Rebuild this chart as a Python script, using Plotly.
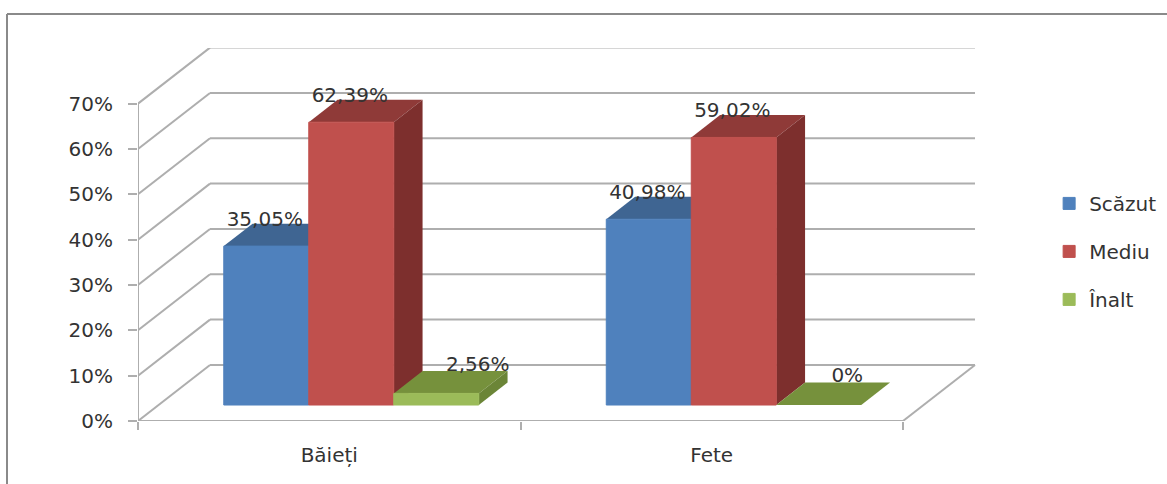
import plotly.graph_objects as go

categories = ["Băieți", "Fete"]
scazut = [35.05, 40.98]
mediu = [62.39, 59.02]
inalt = [2.56, 0]
scazut_labels = ["35,05%", "40,98%"]
mediu_labels = ["62,39%", "59,02%"]
inalt_labels = ["2,56%", "0%"]
y_ticks = [0, 10, 20, 30, 40, 50, 60, 70]
y_tick_labels = ["0%", "10%", "20%", "30%", "40%", "50%", "60%", "70%"]

W, H = 1167, 484
L, R, T, B = 138, 977, 48, 420.7
PX_X = 382.5
PX_Y = 4.53
DX = 72 / PX_X
DY = 56 / PX_Y
D0, D1 = 0.285, 0.685
BAR_W = 85 / PX_X
NUDGE = 1.5 / PX_X

series = [
    dict(name="Scăzut", vals=scazut, labels=scazut_labels, front="#4f81bd", top="#3f6592", side="#375a85"),
    dict(name="Mediu", vals=mediu, labels=mediu_labels, front="#c0504d", top="#8f3a38", side="#7d2f2d"),
    dict(name="Înalt", vals=inalt, labels=inalt_labels, front="#9bbb59", top="#76913c", side="#6b8537"),
]
GRID = "#aeaeae"
TXT = "#333333"
FONT = "DejaVu Sans"

fig = go.Figure()
shapes = []


def line(x0, y0, x1, y1):
    shapes.append(dict(type="line", xref="x", yref="y", x0=x0, y0=y0, x1=x1, y1=y1,
                       layer="below", line=dict(color=GRID, width=2)))


nx = len(categories)
for v in y_ticks:
    line(0, v, DX, v + DY)
    line(DX, v + DY, nx + DX, v + DY)
line(0, 0, 0, max(y_ticks))
line(0, 0, nx, 0)
line(nx, 0, nx + DX, DY)

for s_i, s in enumerate(series):
    z = 1 + s_i * 2
    for c_i, v in enumerate(s["vals"]):
        x0 = c_i + 0.5 + (s_i - 1.5) * BAR_W + D0 * DX + NUDGE
        x1 = x0 + BAR_W
        y0 = D0 * DY
        top = v + y0
        a, b = (D1 - D0) * DX, (D1 - D0) * DY
        # top face
        fig.add_trace(go.Scatter(x=[x0, x1, x1 + a, x0 + a, x0], y=[top, top, top + b, top + b, top],
                                 mode="lines", fill="toself", fillcolor=s["top"], line=dict(width=0),
                                 showlegend=False, hoverinfo="skip", zorder=z))
        # right side face
        if v > 0:
            fig.add_trace(go.Scatter(x=[x1, x1 + a, x1 + a, x1, x1], y=[y0, y0 + b, top + b, top, y0],
                                     mode="lines", fill="toself", fillcolor=s["side"], line=dict(width=0),
                                     showlegend=False, hoverinfo="skip", zorder=z))
    fig.add_trace(go.Bar(
        name=s["name"], legendgroup=s["name"],
        x=[i + 0.5 + (s_i - 1) * BAR_W + D0 * DX + NUDGE for i in range(nx)],
        y=s["vals"], base=[D0 * DY] * nx, width=BAR_W,
        marker=dict(color=s["front"], line=dict(width=[1 if v > 0 else 0 for v in s["vals"]], color=s["front"])),
        zorder=z + 1,
    ))

# data labels: sit just behind each bar's top, the small green ones slide to the right
label_x, label_y, label_t = [], [], []
for s_i, s in enumerate(series):
    for c_i, v in enumerate(s["vals"]):
        shift = 0
        if s_i == 2:
            shift = (43 if v > 0 else 30) / PX_X
        label_x.append(c_i + 0.5 + (s_i - 1) * BAR_W + D0 * DX + shift)
        label_y.append(v + D1 * DY + (5.5 if s_i == 2 else 3) / PX_Y)
        label_t.append(s["labels"][c_i])
fig.add_trace(go.Scatter(x=label_x, y=label_y, text=label_t, mode="text", textposition="middle center",
                         textfont=dict(family=FONT, size=20, color=TXT), showlegend=False,
                         hoverinfo="skip", cliponaxis=False, zorder=20))

frame = dict(color="#8a8a8a", width=2)
shapes.append(dict(type="line", xref="paper", yref="paper",
                   x0=(7 - L) / (R - L), x1=(W - L) / (R - L),
                   y0=(B - 14) / (B - T), y1=(B - 14) / (B - T), line=frame))
shapes.append(dict(type="line", xref="paper", yref="paper",
                   x0=(7 - L) / (R - L), x1=(7 - L) / (R - L),
                   y0=(B - 14) / (B - T), y1=(B - H) / (B - T), line=frame))

fig.update_layout(
    width=W, height=H, autosize=False,
    margin=dict(l=L, r=W - R, t=T, b=H - B, pad=0),
    paper_bgcolor="white", plot_bgcolor="white",
    barmode="overlay",
    shapes=shapes,
    showlegend=True,
    legend=dict(xref="container", yref="container", x=0.899, y=0.62, xanchor="left", yanchor="top",
                tracegroupgap=19, font=dict(family=FONT, size=20, color=TXT), itemwidth=30,
                bgcolor="rgba(0,0,0,0)"),
    font=dict(family=FONT, size=20, color=TXT),
    xaxis=dict(range=[0, (R - L) / PX_X], showgrid=False, zeroline=False, showline=False,
               tickmode="array", tickvals=[i + 0.5 for i in range(nx)], ticktext=categories,
               ticks="", ticklabelstandoff=20, tickfont=dict(family=FONT, size=20, color=TXT),
               minor=dict(tickmode="array", tickvals=list(range(nx + 1)), ticks="outside", ticklen=8,
                          tickcolor=GRID, tickwidth=2, showgrid=False)),
    yaxis=dict(range=[0, (B - T) / PX_Y], showgrid=False, zeroline=False, showline=False,
               tickmode="array", tickvals=y_ticks, ticktext=y_tick_labels,
               ticks="outside", ticklen=9, tickcolor=GRID, tickwidth=2, ticklabelstandoff=11,
               tickfont=dict(family=FONT, size=20, color=TXT)),
)

fig.write_html("out.html", config=dict(displayModeBar=False), post_script="document.body.style.margin='0';")
